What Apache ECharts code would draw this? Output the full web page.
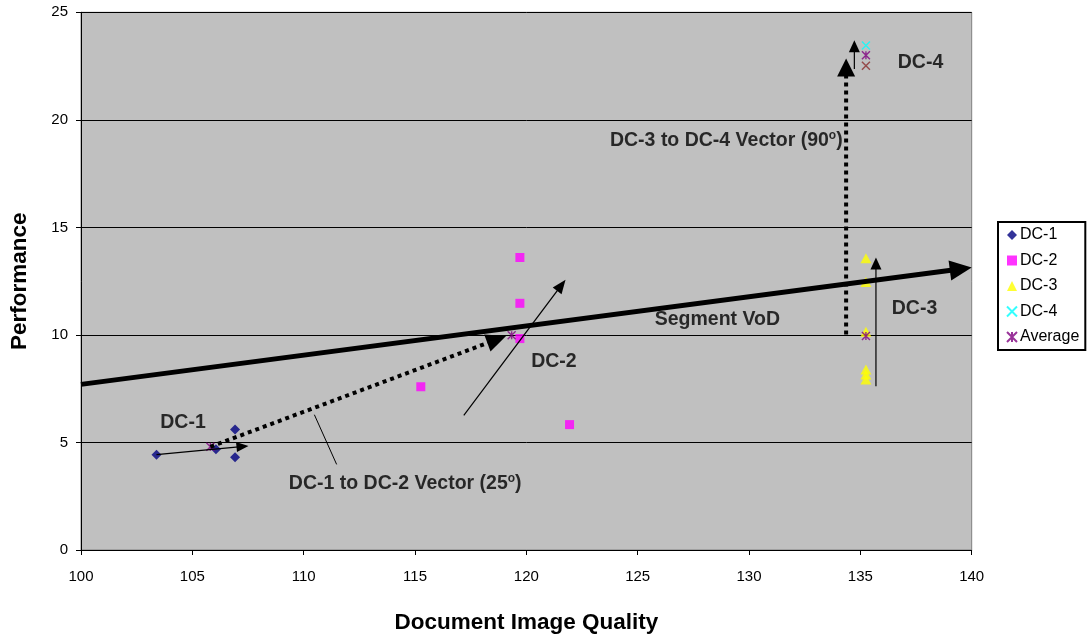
<!DOCTYPE html>
<html>
<head>
<meta charset="utf-8">
<script src="https://cdn.jsdelivr.net/npm/echarts@6/dist/echarts.min.js"></script>
<style>
  html, body { margin: 0; padding: 0; background: #ffffff; }
  #chart { width: 1090px; height: 639px; }
</style>
</head>
<body>
<div id="chart"></div>
<script>
// Measured readings: [Document Image Quality, Performance]
const dc1 = [[103.39, 4.43], [106.06, 4.69], [106.92, 5.60], [106.92, 4.31]];
const dc2 = [[119.71, 13.60], [119.71, 11.47], [119.71, 9.83], [121.94, 5.83], [115.26, 7.59]];
const dc3 = [[135.25, 13.56], [135.25, 12.46], [135.25, 10.15], [135.25, 8.39], [135.25, 8.16], [135.25, 7.93]];
const dc4 = [[135.25, 23.46]];
const dc4Alt = [[135.25, 22.51]];
const average = [[105.81, 4.80], [119.34, 9.98], [135.25, 9.95], [135.25, 23.0]];

// Vector endpoints [from, to] in data units
const vodSegment = [[100, 7.7], [140, 13.13]];
const dc1Trend = [[103.39, 4.43], [107.52, 4.84]];
const dc1ToDc2 = [[105.81, 4.80], [119.09, 9.95]];
const dc2Trend = [[117.19, 6.26], [121.76, 12.57]];
const dc3Trend = [[135.7, 7.61], [135.7, 13.6]];
const dc3ToDc4 = [[134.36, 10.02], [134.36, 22.85]];
const dc4Trend = [[134.73, 22.36], [134.73, 23.7]];
const calloutLeader = [[110.48, 6.29], [111.48, 3.98]];

// Text anchors
const noteText = ['DC-1', 'DC-2', 'DC-3', 'DC-4', 'Segment VoD',
  'DC-1 to DC-2 Vector (25{sup|o})', 'DC-3 to DC-4 Vector (90{sup|o})'];
const noteAt = [[104.58, 5.91], [121.24, 8.78], [137.43, 11.21], [137.70, 22.67],
  [128.58, 10.71], [114.56, 3.09], [128.98, 19.03]];

const xRange = [100, 140, 5];
const yRange = [0, 25, 5];

const FONT = '"Liberation Sans", Arial, sans-serif';

// line look per vector: width, dash, head [length, width]
const vectors = [
  { ends: vodSegment, width: 5, dash: null, head: [22, 20] },
  { ends: dc1Trend, width: 1.2, dash: null, head: [12, 10] },
  { ends: dc1ToDc2, width: 4, dash: [4, 4], head: [20, 18] },
  { ends: dc2Trend, width: 1.2, dash: null, head: [14, 11] },
  { ends: dc3Trend, width: 1.2, dash: null, head: [12, 11] },
  { ends: dc3ToDc4, width: 4, dash: [4, 4], head: [18, 18] },
  { ends: dc4Trend, width: 1.2, dash: null, head: [12, 11] },
  { ends: calloutLeader, width: 1, dash: null, head: null }
];

const crossPath = 'path://M0 0L10 10M10 0L0 10';
const starPath = 'path://M0 0L10 10M10 0L0 10M5 0L5 10';

function renderVector(params, api) {
  const v = vectors[api.value(4)];
  const p1 = api.coord([api.value(0), api.value(1)]);
  const p2 = api.coord([api.value(2), api.value(3)]);
  const dx = p2[0] - p1[0], dy = p2[1] - p1[1];
  const len = Math.sqrt(dx * dx + dy * dy);
  const ux = dx / len, uy = dy / len;
  const children = [];
  let end = p2;
  if (v.head) {
    const hl = v.head[0], hw = v.head[1] / 2;
    const bx = p2[0] - ux * hl, by = p2[1] - uy * hl;
    end = [p2[0] - ux * hl * 0.6, p2[1] - uy * hl * 0.6];
    children.push({
      type: 'polygon',
      shape: { points: [p2, [bx - uy * hw, by + ux * hw], [bx + uy * hw, by - ux * hw]] },
      style: { fill: '#000' }
    });
  }
  children.unshift({
    type: 'line',
    shape: { x1: p1[0], y1: p1[1], x2: end[0], y2: end[1] },
    style: { stroke: '#000', lineWidth: v.width, lineDash: v.dash || null, lineCap: 'butt' }
  });
  return { type: 'group', children: children };
}

const chart = echarts.init(document.getElementById('chart'), null, { renderer: 'canvas' });

chart.setOption({
  animation: false,
  textStyle: { fontFamily: FONT },
  grid: {
    left: 72.7, right: 118.3, top: 12.3, bottom: 79.7,
    show: true, backgroundColor: '#C0C0C0', borderColor: '#808080', borderWidth: 1
  },
  xAxis: {
    type: 'value', min: xRange[0], max: xRange[1], interval: xRange[2],
    name: 'Document Image Quality', nameLocation: 'middle', nameGap: 61,
    nameTextStyle: { fontSize: 22.5, fontWeight: 'bold', color: '#000', fontFamily: FONT },
    axisLine: { show: true, lineStyle: { color: '#000', width: 1 } },
    axisTick: { show: true, length: 5, lineStyle: { color: '#000' } },
    axisLabel: { fontSize: 15, color: '#000', margin: 19, fontFamily: FONT },
    splitLine: { show: false }
  },
  yAxis: {
    type: 'value', min: yRange[0], max: yRange[1], interval: yRange[2],
    name: 'Performance', nameLocation: 'middle', nameGap: 50,
    nameTextStyle: { fontSize: 22.5, fontWeight: 'bold', color: '#000', fontFamily: FONT },
    axisLine: { show: true, lineStyle: { color: '#000', width: 1 } },
    axisTick: { show: true, length: 5, lineStyle: { color: '#000' } },
    axisLabel: { fontSize: 15, color: '#000', margin: 13, fontFamily: FONT },
    splitLine: { show: true, lineStyle: { color: '#000', width: 1 } }
  },
  legend: {
    data: ['DC-1', 'DC-2', 'DC-3', 'DC-4', 'Average'],
    orient: 'vertical', left: 998, top: 222,
    backgroundColor: '#fff', borderColor: '#000', borderWidth: 2,
    padding: [5, 6, 5, 8], itemWidth: 10, itemHeight: 10, itemGap: 9.5,
    textStyle: { fontSize: 16, color: '#000', fontFamily: FONT, padding: [0, 0, 0, -2] }
  },
  series: [
    { name: 'DC-1', type: 'scatter', data: dc1, symbol: 'diamond', symbolSize: 10,
      itemStyle: { color: '#000080' }, z: 3 },
    { name: 'DC-2', type: 'scatter', data: dc2, symbol: 'rect', symbolSize: 9,
      itemStyle: { color: '#FF00FF' }, z: 3 },
    { name: 'DC-3', type: 'scatter', data: dc3, symbol: 'triangle', symbolSize: [11, 10],
      itemStyle: { color: '#FFFF00' }, z: 3 },
    { name: 'DC-4', type: 'scatter', data: dc4, symbol: crossPath, symbolSize: 8,
      itemStyle: { color: 'rgba(0,0,0,0)', borderColor: '#00FFFF', borderWidth: 1.4 }, z: 3 },
    { name: 'DC-4 b', type: 'scatter', data: dc4Alt, symbol: crossPath, symbolSize: 8,
      itemStyle: { color: 'rgba(0,0,0,0)', borderColor: '#8B2A2A', borderWidth: 1.4 }, z: 3 },
    { name: 'Average', type: 'scatter', data: average, symbol: starPath, symbolSize: 8,
      itemStyle: { color: 'rgba(0,0,0,0)', borderColor: '#800080', borderWidth: 1.4 }, z: 4 },
    {
      name: 'vectors', type: 'custom', clip: false, z: 5,
      encode: { x: [0, 2], y: [1, 3] },
      data: vectors.map((v, i) => [v.ends[0][0], v.ends[0][1], v.ends[1][0], v.ends[1][1], i]),
      renderItem: renderVector, silent: true
    },
    {
      name: 'notes', type: 'scatter', symbolSize: 0, z: 6, silent: true,
      data: noteAt.map((p, i) => ({ value: p, label: { formatter: noteText[i] } })),
      label: {
        show: true, position: 'inside', color: '#000', fontSize: 19.5, fontWeight: 'bold',
        fontFamily: FONT,
        rich: { sup: { fontSize: 12, fontWeight: 'bold', verticalAlign: 'top', padding: [0, 0, 10, 0], fontFamily: FONT } }
      }
    }
  ]
});
</script>
</body>
</html>
